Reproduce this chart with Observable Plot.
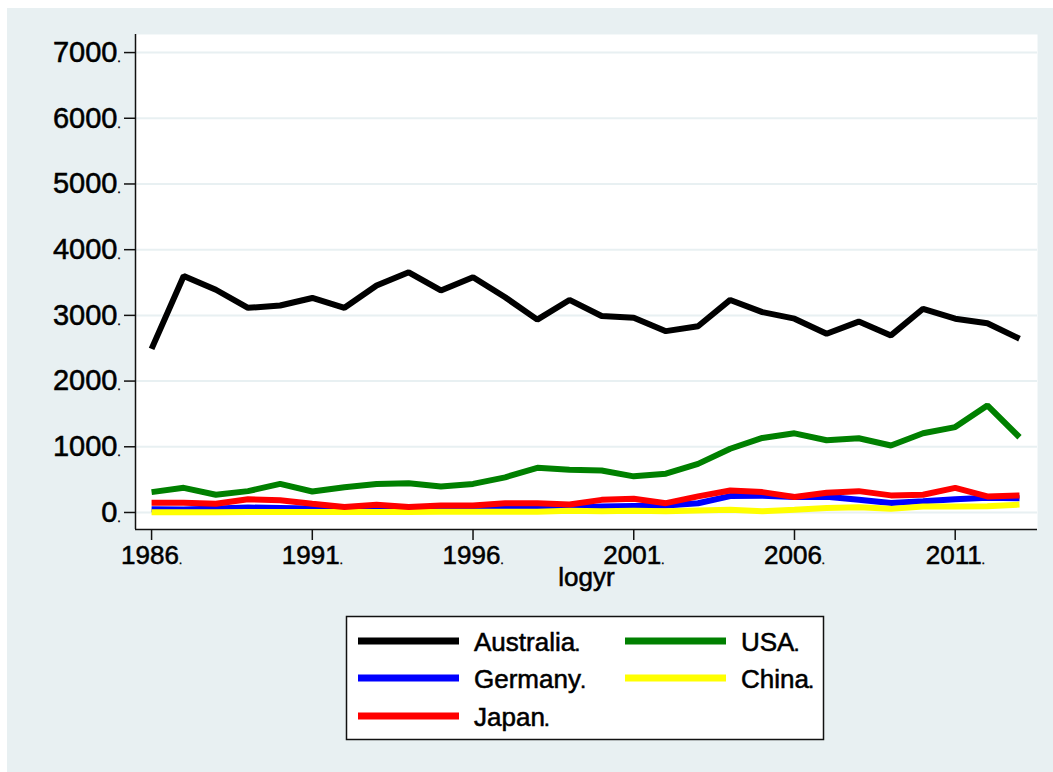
<!DOCTYPE html>
<html>
<head>
<meta charset="utf-8">
<script src="https://cdn.jsdelivr.net/npm/d3@7"></script>
<script src="https://cdn.jsdelivr.net/npm/@observablehq/plot@0.6"></script>
<style>
  html, body { margin: 0; padding: 0; background: #ffffff; }
  #wrap { position: relative; width: 1053px; height: 772px; overflow: hidden; font-family: "Liberation Sans", Arial, Helvetica, sans-serif; }
  #bg { position: absolute; left: 7px; top: 8px; width: 1046px; height: 764px; background: #e8f0f2; }
  #chart { position: absolute; left: 0; top: 0; }
  #legend { position: absolute; left: 0; top: 0; }
  #wrap svg text { stroke: #000; stroke-width: 0.55px; paint-order: stroke; }
</style>
</head>
<body>
<div id="wrap">
  <div id="bg"></div>
  <div id="chart"></div>
  <svg id="legend" width="1053" height="772"></svg>
</div>
<script>
// ---- data ----
const years = [1986,1987,1988,1989,1990,1991,1992,1993,1994,1995,1996,1997,1998,1999,2000,2001,2002,2003,2004,2005,2006,2007,2008,2009,2010,2011,2012,2013];
const australia = [2490,3600,3390,3115,3150,3265,3115,3455,3655,3380,3580,3275,2935,3235,2990,2965,2760,2835,3235,3050,2950,2720,2905,2695,3100,2950,2880,2645];
const usa       = [310,375,270,325,435,320,385,435,445,395,435,535,680,650,640,550,590,740,970,1135,1205,1100,1130,1020,1205,1300,1630,1145];
const germany   = [50,45,60,75,70,60,55,60,55,60,60,70,70,75,90,100,105,140,250,255,235,240,195,145,170,200,225,215];
const china     = [5,5,5,8,8,8,8,8,8,10,10,10,12,25,20,25,20,30,40,20,40,70,80,55,90,90,95,120];
const japan     = [150,150,132,200,185,132,82,118,82,105,105,142,142,122,192,208,142,245,335,310,235,300,325,260,270,375,245,260];

const countries = ["Australia","USA","Germany","China","Japan"];
const colors    = ["#000000","#008000","#0000ff","#ffff00","#ff0000"];
const seriesValues = [australia, usa, germany, china, japan];

const xTicks = [1986,1991,1996,2001,2006,2011];
const yTicks = [0,1000,2000,3000,4000,5000,6000,7000];
const xTitle = "logyr";

// long table in drawing order (Australia, USA, Germany, China, Japan)
const rows = [];
countries.forEach((c, i) => years.forEach((yr, j) => rows.push({country: c, year: yr, value: seriesValues[i][j]})));

const xDomain = [1985.5, 2013.56];
const yDomain = [-259, 7275];

const chart = Plot.plot({
  width: 1053,
  height: 620,
  marginLeft: 135,
  marginRight: 16,
  marginTop: 34,
  marginBottom: 91,
  style: {background: "transparent", fontFamily: "'Liberation Sans', Arial, Helvetica, sans-serif", color: "#000"},
  x: {domain: xDomain, label: null},
  y: {domain: yDomain, label: null},
  color: {domain: countries, range: colors},
  marks: [
    Plot.frame({fill: "white", stroke: null}),
    Plot.gridY(yTicks, {stroke: "#e8f0f2", strokeOpacity: 1, strokeWidth: 2}),
    Plot.line(rows, {x: "year", y: "value", z: "country", stroke: "country", strokeWidth: 6, strokeLinejoin: "miter", strokeLinecap: "butt"}),
    Plot.ruleX([xDomain[0]], {stroke: "#111", strokeWidth: 1.5}),
    Plot.ruleY([yDomain[0]], {stroke: "#111", strokeWidth: 1.5}),
    Plot.axisY(yTicks, {tickSize: 11, tickPadding: 4, fontSize: 29, tickFormat: d => String(d), stroke: "#111", strokeWidth: 1.5}),
    Plot.axisX(xTicks, {tickSize: 11, tickPadding: 5, fontSize: 26, tickFormat: d => String(d), stroke: "#111", strokeWidth: 1.5}),
    Plot.text([xTitle], {frameAnchor: "bottom", dy: 56, fontSize: 26, fill: "#000"})
  ]
});
document.getElementById("chart").appendChild(chart);

// tiny trailing dots after tick labels (as in the reference)
chart.querySelectorAll('g[aria-label="y-axis tick label"] text, g[aria-label="x-axis tick label"] text').forEach(t => {
  const ts = document.createElementNS("http://www.w3.org/2000/svg", "tspan");
  ts.setAttribute("font-size", "11");
  ts.textContent = ".";
  t.appendChild(ts);
});

// ---- legend (uses the plot's colour scale) ----
const color = chart.scale("color");
const NS = "http://www.w3.org/2000/svg";
const lg = document.getElementById("legend");
const box = document.createElementNS(NS, "rect");
box.setAttribute("x", 346.5); box.setAttribute("y", 616.5);
box.setAttribute("width", 477); box.setAttribute("height", 123);
box.setAttribute("fill", "#fff"); box.setAttribute("stroke", "#111"); box.setAttribute("stroke-width", 1.5);
lg.appendChild(box);
const legendOrder = ["Australia","USA","Germany","China","Japan"];
const colX = [358, 625];
const rowY = [641, 678, 716];
legendOrder.forEach((name, i) => {
  const col = i % 2, row = Math.floor(i / 2);
  const ln = document.createElementNS(NS, "line");
  ln.setAttribute("x1", colX[col]); ln.setAttribute("x2", colX[col] + 101);
  ln.setAttribute("y1", rowY[row]); ln.setAttribute("y2", rowY[row]);
  ln.setAttribute("stroke", color.range[color.domain.indexOf(name)]);
  ln.setAttribute("stroke-width", 7);
  lg.appendChild(ln);
  const tx = document.createElementNS(NS, "text");
  tx.setAttribute("x", colX[col] + 116);
  tx.setAttribute("y", rowY[row] + 10);
  tx.setAttribute("font-size", 26);
  tx.setAttribute("font-family", "'Liberation Sans', Arial, Helvetica, sans-serif");
  tx.setAttribute("fill", "#000");
  tx.textContent = name;
  const dot = document.createElementNS(NS, "tspan");
  dot.setAttribute("font-size", 15);
  dot.setAttribute("font-weight", "bold");
  dot.textContent = ".";
  tx.appendChild(dot);
  lg.appendChild(tx);
});
</script>
</body>
</html>
